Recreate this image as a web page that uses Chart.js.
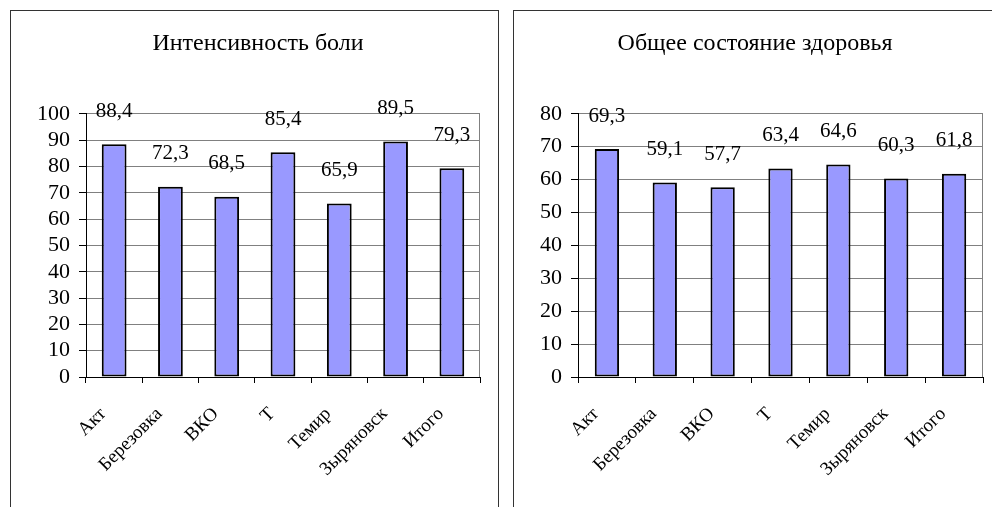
<!DOCTYPE html>
<html lang="ru">
<head>
    <meta charset="UTF-8">
    <title>Интенсивность боли / Общее состояние здоровья</title>
    <script src="https://cdn.jsdelivr.net/npm/chart.js"></script>
    <style>
        body {
            margin: 0;
            background: #fff;
            overflow: hidden;
        }

        .panel {
            position: absolute;
            top: 10px;
            height: 520px;
            border: 1px solid #333;
            background: #fff;
        }

        #panelPain { left: 10px; width: 487px; }
        #panelHealth { left: 513px; width: 500px; }

        canvas { display: block; }
    </style>
</head>
<body>
    <div class="panel" id="panelPain">
        <canvas id="painChart" width="487" height="510"></canvas>
    </div>
    <div class="panel" id="panelHealth">
        <canvas id="healthChart" width="490" height="510"></canvas>
    </div>

    <script>
        // Подписи категорий (как они видны на оси)
        const categories = ["Акт", "Березовка", "ВКО", "Т", "Темир", "Зыряновск", "Итого"];

        // Значения показателей
        const painValues = [88.4, 72.3, 68.5, 85.4, 65.9, 89.5, 79.3];
        const healthValues = [69.3, 59.1, 57.7, 63.4, 64.6, 60.3, 61.8];

        const serif = "'Liberation Serif', 'Times New Roman', serif";

        // Правая серая граница области построения
        const plotFrame = {
            id: "plotFrame",
            beforeDatasetsDraw(chart) {
                const { ctx, chartArea } = chart;
                const x = Math.round(chartArea.right) - 0.5;
                ctx.save();
                ctx.strokeStyle = "#808080";
                ctx.lineWidth = 1;
                ctx.beginPath();
                ctx.moveTo(x, chartArea.top);
                ctx.lineTo(x, chartArea.bottom);
                ctx.stroke();
                ctx.restore();
            }
        };

        // Подписи значений над столбцами, с запятой
        const valueLabels = {
            id: "valueLabels",
            afterDatasetsDraw(chart) {
                const ctx = chart.ctx;
                const meta = chart.getDatasetMeta(0);
                const values = chart.data.datasets[0].data;
                ctx.save();
                ctx.font = "21px " + serif;
                ctx.fillStyle = "#000";
                ctx.textAlign = "center";
                ctx.textBaseline = "middle";
                meta.data.forEach((bar, i) => {
                    ctx.fillText(values[i].toFixed(1).replace(".", ","), bar.x, bar.y - 33);
                });
                ctx.restore();
            }
        };

        function makeChart(canvasId, title, values, maxY, padLeft, yWidth, padRight, barPct) {
            return new Chart(document.getElementById(canvasId), {
                type: "bar",
                data: {
                    labels: categories,
                    datasets: [{
                        data: values,
                        backgroundColor: "#9999ff",
                        borderColor: "#000",
                        borderWidth: 2,
                        borderSkipped: false,
                        barPercentage: barPct,
                        categoryPercentage: 1
                    }]
                },
                options: {
                    responsive: false,
                    animation: false,
                    layout: { padding: { left: padLeft, right: padRight, top: 0, bottom: 0 } },
                    plugins: {
                        legend: { display: false },
                        tooltip: { enabled: false },
                        title: {
                            display: true,
                            text: title,
                            color: "#000",
                            font: { family: serif, size: 24, weight: "normal" },
                            padding: { top: 18, bottom: 56 }
                        }
                    },
                    scales: {
                        x: {
                            grid: {
                                offset: true,
                                drawOnChartArea: false,
                                tickColor: "#000",
                                tickLength: 6
                            },
                            border: { color: "#000", width: 1 },
                            ticks: {
                                autoSkip: false,
                                maxRotation: 45,
                                minRotation: 45,
                                labelOffset: -11,
                                padding: 20,
                                color: "#000",
                                font: { family: serif, size: 19 }
                            },
                            afterFit: scale => { scale.height = 144; }
                        },
                        y: {
                            min: 0,
                            max: maxY,
                            grid: {
                                color: "#808080",
                                tickColor: "#000",
                                tickLength: 7
                            },
                            border: { color: "#000", width: 1 },
                            ticks: {
                                stepSize: 10,
                                autoSkip: false,
                                padding: 9,
                                color: "#000",
                                font: { family: serif, size: 22 }
                            },
                            afterFit: scale => { scale.width = yWidth; }
                        }
                    }
                },
                plugins: [plotFrame, valueLabels]
            });
        }

        makeChart("painChart", "Интенсивность боли", painValues, 100, 25, 50, 18, 0.44);
        makeChart("healthChart", "Общее состояние здоровья", healthValues, 80, 13, 51, 21, 0.42);
    </script>
</body>
</html>
